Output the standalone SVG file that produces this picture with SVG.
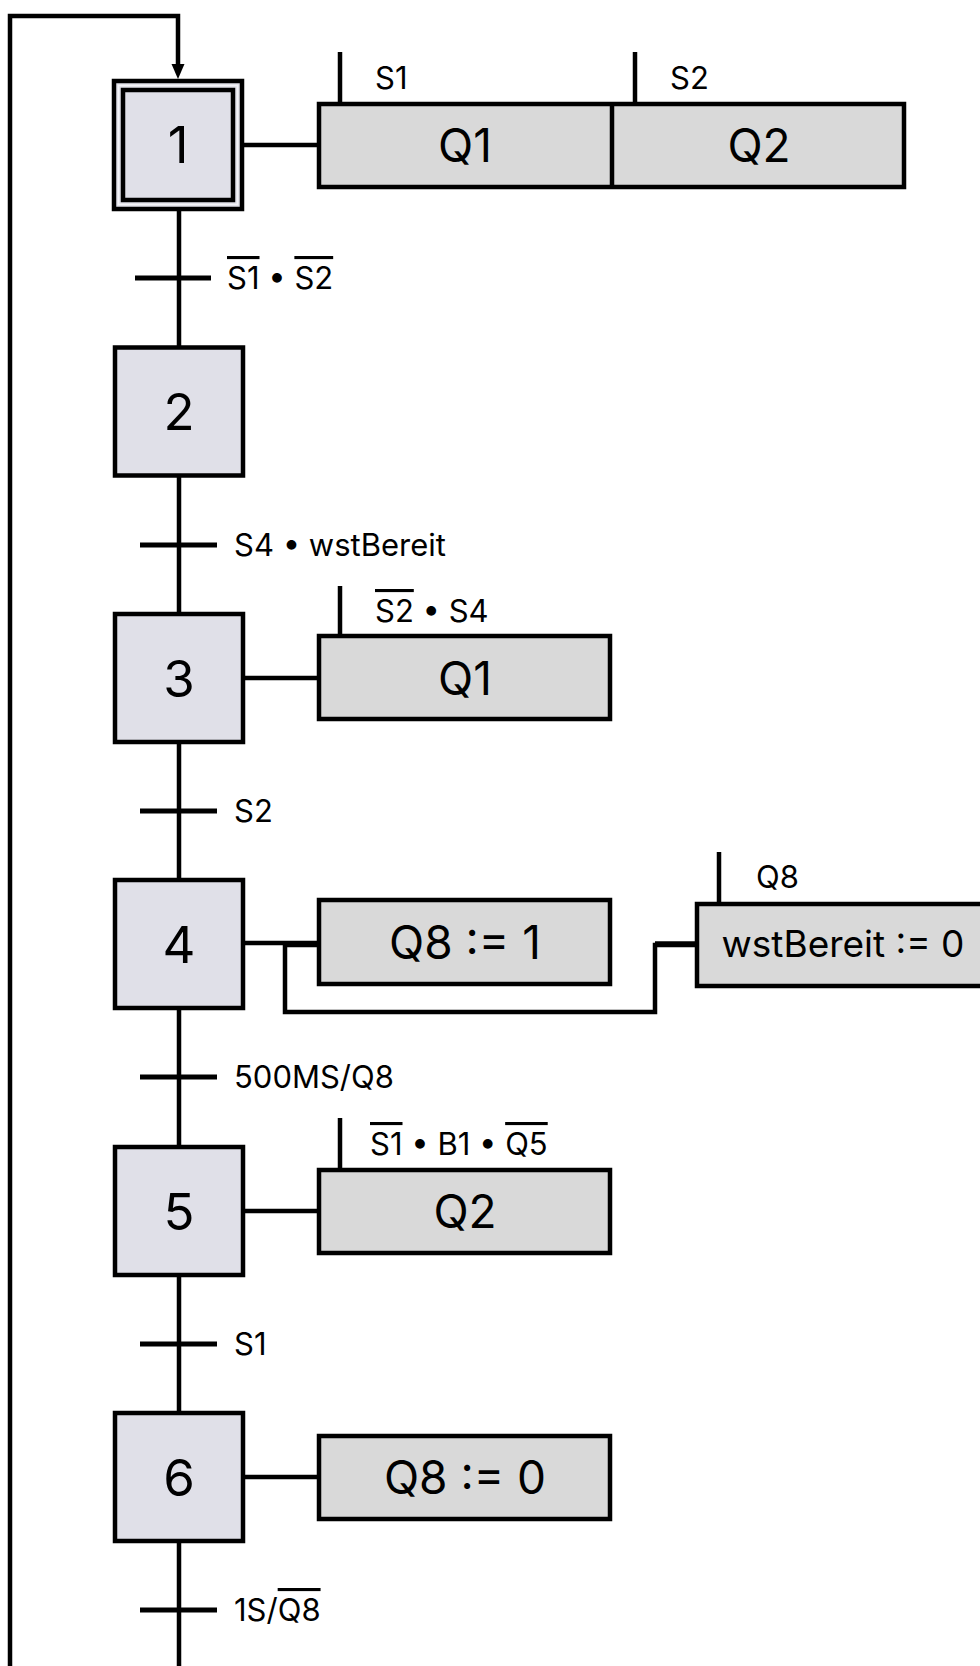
<svg xmlns="http://www.w3.org/2000/svg" width="980" height="1666" viewBox="0 0 980 1666">
  <defs>
    <style>
      .step { fill: #e0e0e8; stroke: #000; stroke-width: 4.5; }
      .act { fill: #d9d9d9; stroke: #000; stroke-width: 4.5; }
      .wire { fill: none; stroke: #000; stroke-width: 4.5; }
      .tick { stroke: #000; stroke-width: 5; }
      .num { font-family: Inter, "Liberation Sans", sans-serif; font-size: 51px; text-anchor: middle; fill: #000; }
      .atxt { font-family: Inter, "Liberation Sans", sans-serif; font-size: 46px; text-anchor: middle; fill: #000; }
      .lbl { font-family: Inter, "Liberation Sans", sans-serif; font-size: 31px; fill: #000; }
      .ov { text-decoration: overline; }
    </style>
  </defs>
  <rect width="980" height="1666" fill="#fff"/>

  <!-- connectors: main flow, return loop, step-action links -->
  <g id="connectors">
    <line class="wire" x1="179" y1="211" x2="179" y2="1666"/>
    <polyline class="wire" points="10,1666 10,16 178,16 178,66"/>
    <polygon points="171.5,64 184.5,64 178,79" fill="#000"/>
    <line class="wire" x1="244" y1="145" x2="317" y2="145"/>
    <line class="wire" x1="245" y1="678" x2="317" y2="678"/>
    <line class="wire" x1="245" y1="943" x2="317" y2="943"/>
    <polyline class="wire" points="317,945 285,945 285,1012 655,1012 655,945 696,945"/>
    <line class="wire" x1="655" y1="943.5" x2="696" y2="943.5"/>
    <line class="wire" x1="245" y1="1211" x2="317" y2="1211"/>
    <line class="wire" x1="245" y1="1477" x2="317" y2="1477"/>
    <!-- action qualifier ticks -->
    <line class="wire" x1="340" y1="52" x2="340" y2="104"/>
    <line class="wire" x1="635" y1="52" x2="635" y2="104"/>
    <line class="wire" x1="340" y1="586" x2="340" y2="636"/>
    <line class="wire" x1="719" y1="852" x2="719" y2="904"/>
    <line class="wire" x1="340" y1="1118" x2="340" y2="1170"/>
  </g>

  <!-- transitions -->
  <g id="transitions">
    <line class="tick" x1="135" y1="278" x2="211" y2="278"/>
    <text class="lbl" x="227" y="289"><tspan class="ov">S1</tspan> • <tspan class="ov">S2</tspan></text>
    <line class="tick" x1="140" y1="545" x2="217" y2="545"/>
    <text class="lbl" x="234" y="556">S4 • wstBereit</text>
    <line class="tick" x1="140" y1="811" x2="217" y2="811"/>
    <text class="lbl" x="234" y="822">S2</text>
    <line class="tick" x1="140" y1="1077" x2="217" y2="1077"/>
    <text class="lbl" x="234" y="1088">500MS/Q8</text>
    <line class="tick" x1="140" y1="1344" x2="217" y2="1344"/>
    <text class="lbl" x="234" y="1355">S1</text>
    <line class="tick" x1="140" y1="1610" x2="217" y2="1610"/>
    <text class="lbl" x="234" y="1621">1S/<tspan class="ov">Q8</tspan></text>
  </g>

  <!-- step 1 (initial step) -->
  <g id="step1">
    <rect class="step" x="114" y="81" width="128" height="128"/>
    <rect x="118.5" y="85.5" width="119" height="119" fill="none" stroke="#f4f4f8" stroke-width="1.5"/>
    <rect class="step" x="123" y="90" width="110" height="110"/>
    <text class="num" x="178" y="163">1</text>
  </g>
  <g id="action1">
    <rect class="act" x="319" y="104" width="585" height="83"/>
    <line class="wire" x1="612" y1="104" x2="612" y2="187"/>
    <text class="atxt" x="465" y="162">Q1</text>
    <text class="atxt" x="759" y="162">Q2</text>
    <text class="lbl" x="375" y="89">S1</text>
    <text class="lbl" x="670" y="89">S2</text>
  </g>

  <g id="step2">
    <rect class="step" x="115" y="347.5" width="128" height="128"/>
    <text class="num" x="179" y="430">2</text>
  </g>

  <g id="step3">
    <rect class="step" x="115" y="614" width="128" height="128"/>
    <text class="num" x="179" y="696.5">3</text>
  </g>
  <g id="action3">
    <rect class="act" x="319" y="636" width="291" height="83"/>
    <text class="atxt" x="465" y="694.5">Q1</text>
    <text class="lbl" x="375" y="622"><tspan class="ov">S2</tspan> • S4</text>
  </g>

  <g id="step4">
    <rect class="step" x="115" y="880" width="128" height="128"/>
    <text class="num" x="179" y="962.5">4</text>
  </g>
  <g id="action4a">
    <rect class="act" x="319" y="900" width="291" height="84"/>
    <text class="atxt" x="465" y="959">Q8 := 1</text>
  </g>
  <g id="action4b">
    <rect class="act" x="697" y="904" width="330" height="82"/>
    <text class="atxt" x="843" y="957" style="font-size:37px">wstBereit := 0</text>
    <text class="lbl" x="756" y="888">Q8</text>
  </g>

  <g id="step5">
    <rect class="step" x="115" y="1147" width="128" height="128"/>
    <text class="num" x="179" y="1229.5">5</text>
  </g>
  <g id="action5">
    <rect class="act" x="319" y="1170" width="291" height="83"/>
    <text class="atxt" x="465" y="1228">Q2</text>
    <text class="lbl" x="370" y="1155"><tspan class="ov">S1</tspan> • B1 • <tspan class="ov">Q5</tspan></text>
  </g>

  <g id="step6">
    <rect class="step" x="115" y="1413" width="128" height="128"/>
    <text class="num" x="179" y="1495.5">6</text>
  </g>
  <g id="action6">
    <rect class="act" x="319" y="1436" width="291" height="83"/>
    <text class="atxt" x="465" y="1494">Q8 := 0</text>
  </g>
</svg>
